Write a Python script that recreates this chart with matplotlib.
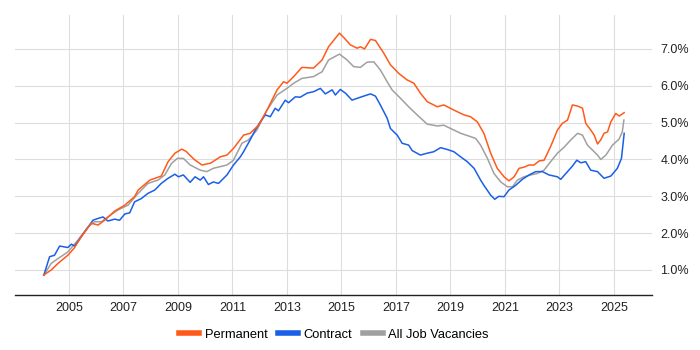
import matplotlib
matplotlib.use("Agg")
import matplotlib.pyplot as plt
from matplotlib.ticker import FuncFormatter

# Permanent (orange)
perm_x = [2004.07, 2004.35, 2004.6, 2004.96, 2005.2, 2005.45, 2005.7, 2005.82, 2006.07, 2006.31,
          2006.68, 2007.05, 2007.41, 2007.54, 2007.97, 2008.39, 2008.64, 2008.89, 2009.14, 2009.3,
          2009.6, 2009.88, 2010.2, 2010.55, 2010.8, 2011.04, 2011.41, 2011.65, 2011.96, 2012.27,
          2012.64, 2012.88, 2013.0, 2013.25, 2013.55, 2013.98, 2014.29, 2014.53, 2014.93, 2015.1,
          2015.33, 2015.58, 2015.7, 2015.85, 2016.07, 2016.25, 2016.56, 2016.8, 2017.1, 2017.41,
          2017.66, 2017.9, 2018.15, 2018.52, 2018.76, 2019.13, 2019.5, 2019.74, 2019.99, 2020.23,
          2020.48, 2020.72, 2020.97, 2021.15, 2021.34, 2021.52, 2021.7, 2021.89, 2022.07, 2022.26,
          2022.44, 2022.68, 2022.93, 2023.11, 2023.3, 2023.48, 2023.67, 2023.85, 2023.97, 2024.15,
          2024.28, 2024.4, 2024.52, 2024.64, 2024.77, 2024.89, 2025.07, 2025.2, 2025.38]
perm_y = [0.86, 1.0, 1.18, 1.40, 1.6, 1.90, 2.15, 2.27, 2.22, 2.35,
          2.6, 2.76, 2.99, 3.17, 3.44, 3.55, 3.94, 4.17, 4.28, 4.22,
          4.0, 3.85, 3.9, 4.07, 4.12, 4.30, 4.66, 4.71, 4.93, 5.34,
          5.89, 6.11, 6.07, 6.25, 6.50, 6.48, 6.70, 7.06, 7.43, 7.3,
          7.11, 7.02, 7.06, 7.0, 7.26, 7.23, 6.88, 6.57, 6.34, 6.16,
          6.07, 5.80, 5.57, 5.43, 5.48, 5.34, 5.21, 5.16, 5.02, 4.71,
          4.17, 3.76, 3.53, 3.42, 3.53, 3.76, 3.79, 3.85, 3.85, 3.96,
          3.98, 4.35, 4.80, 4.98, 5.07, 5.48, 5.45, 5.39, 4.98, 4.80,
          4.66, 4.42, 4.53, 4.71, 4.75, 5.02, 5.25, 5.18, 5.27]

# Contract (blue)
cont_x = [2004.08, 2004.29, 2004.47, 2004.66, 2004.96, 2005.09, 2005.21, 2005.45, 2005.7, 2005.88,
          2006.07, 2006.25, 2006.43, 2006.68, 2006.86, 2007.05, 2007.23, 2007.41, 2007.66, 2007.9,
          2008.15, 2008.39, 2008.64, 2008.89, 2009.02, 2009.2, 2009.45, 2009.63, 2009.82, 2009.94,
          2010.12, 2010.3, 2010.49, 2010.8, 2011.04, 2011.29, 2011.41, 2011.65, 2011.84, 2012.02,
          2012.21, 2012.39, 2012.57, 2012.69, 2012.94, 2013.06, 2013.31, 2013.49, 2013.74, 2013.98,
          2014.23, 2014.41, 2014.66, 2014.78, 2014.96, 2015.15, 2015.39, 2015.58, 2015.82, 2016.07,
          2016.25, 2016.43, 2016.68, 2016.8, 2017.05, 2017.23, 2017.47, 2017.6, 2017.9, 2018.15,
          2018.39, 2018.64, 2018.89, 2019.13, 2019.38, 2019.62, 2019.87, 2020.11, 2020.23, 2020.48,
          2020.63, 2020.78, 2020.97, 2021.15, 2021.4, 2021.64, 2021.89, 2022.13, 2022.38, 2022.62,
          2022.93, 2023.05, 2023.3, 2023.48, 2023.64, 2023.79, 2023.97, 2024.15, 2024.4, 2024.64,
          2024.89, 2025.13, 2025.28, 2025.38]
cont_y = [0.86, 1.36, 1.40, 1.65, 1.61, 1.70, 1.65, 1.90, 2.16, 2.35,
          2.40, 2.44, 2.33, 2.38, 2.35, 2.52, 2.55, 2.85, 2.94, 3.08,
          3.17, 3.35, 3.49, 3.60, 3.53, 3.58, 3.38, 3.53, 3.44, 3.53,
          3.32, 3.39, 3.35, 3.58, 3.85, 4.07, 4.21, 4.53, 4.80, 5.02,
          5.21, 5.16, 5.39, 5.32, 5.61, 5.54, 5.70, 5.69, 5.80, 5.84,
          5.93, 5.78, 5.89, 5.75, 5.90, 5.80, 5.61, 5.66, 5.72, 5.78,
          5.72, 5.48, 5.12, 4.84, 4.66, 4.44, 4.39, 4.24, 4.12, 4.17,
          4.21, 4.32, 4.27, 4.21, 4.07, 3.94, 3.76, 3.44, 3.30, 3.03,
          2.92, 3.00, 2.99, 3.17, 3.30, 3.46, 3.58, 3.67, 3.67, 3.58,
          3.53, 3.46, 3.67, 3.82, 3.98, 3.91, 3.94, 3.71, 3.67, 3.49,
          3.55, 3.76, 4.03, 4.71]

# All Job Vacancies (grey)
all_x = [2004.08, 2004.35, 2004.6, 2004.96, 2005.33, 2005.7, 2005.94, 2006.19, 2006.43, 2006.8,
         2007.17, 2007.54, 2007.9, 2008.27, 2008.52, 2008.76, 2008.98, 2009.2, 2009.45, 2009.82,
         2010.06, 2010.3, 2010.8, 2011.04, 2011.35, 2011.59, 2011.9, 2012.27, 2012.64, 2013.0,
         2013.25, 2013.55, 2013.98, 2014.29, 2014.53, 2014.93, 2015.21, 2015.45, 2015.7, 2015.94,
         2016.19, 2016.43, 2016.68, 2016.86, 2017.17, 2017.47, 2017.78, 2018.15, 2018.52, 2018.76,
         2019.01, 2019.38, 2019.74, 2019.93, 2020.11, 2020.36, 2020.6, 2020.85, 2021.09, 2021.28,
         2021.46, 2021.7, 2021.95, 2022.19, 2022.44, 2022.68, 2022.93, 2023.17, 2023.42, 2023.67,
         2023.85, 2024.03, 2024.21, 2024.4, 2024.52, 2024.71, 2024.95, 2025.19, 2025.31, 2025.37]
all_y = [0.86, 1.18, 1.31, 1.49, 1.81, 2.17, 2.31, 2.31, 2.44, 2.63,
         2.76, 3.08, 3.35, 3.44, 3.58, 3.89, 4.03, 4.03, 3.85, 3.71,
         3.67, 3.76, 3.85, 3.98, 4.44, 4.53, 4.80, 5.34, 5.75, 5.93,
         6.07, 6.20, 6.25, 6.38, 6.70, 6.86, 6.70, 6.52, 6.50, 6.64,
         6.65, 6.43, 6.11, 5.89, 5.66, 5.43, 5.21, 4.96, 4.91, 4.93,
         4.84, 4.71, 4.62, 4.57, 4.39, 4.03, 3.62, 3.39, 3.26, 3.26,
         3.44, 3.53, 3.58, 3.62, 3.71, 3.94, 4.17, 4.33, 4.53, 4.71,
         4.66, 4.39, 4.26, 4.12, 4.00, 4.12, 4.39, 4.55, 4.75, 5.07]

year_ticks = list(range(2005, 2026, 2))
pct_ticks = [1, 2, 3, 4, 5, 6, 7]

plt.rcParams['font.family'] = ['Liberation Sans', 'DejaVu Sans']

fig = plt.figure(figsize=(7, 3.5), dpi=100)
ax = fig.add_axes([0.0214, 0.157, 0.910, 0.800])

ax.plot(all_x, all_y, color='#a0a0a0', lw=1.1, label='All Job Vacancies', zorder=2)
ax.plot(cont_x, cont_y, color='#1a5fe6', lw=1.1, label='Contract', zorder=3)
ax.plot(perm_x, perm_y, color='#ff5a1a', lw=1.1, label='Permanent', zorder=4)

ax.set_xlim(2003.02, 2026.4)
ax.set_ylim(0.32, 7.92)
ax.set_xticks(year_ticks)
ax.set_yticks(pct_ticks)
ax.yaxis.tick_right()
ax.yaxis.set_major_formatter(FuncFormatter(lambda v, p: f"{v:.1f}%"))
ax.tick_params(axis='both', length=0, labelsize=9, colors='#222222')
ax.tick_params(axis='y', pad=6)
ax.tick_params(axis='x', pad=5)
ax.grid(True, color='#dddddd', lw=0.8)
ax.set_axisbelow(True)
for s in ['top', 'left', 'right']:
    ax.spines[s].set_visible(False)
ax.spines['bottom'].set_color('#222222')
ax.spines['bottom'].set_linewidth(1.0)

h, l = ax.get_legend_handles_labels()
order = [2, 1, 0]
leg = fig.legend([h[i] for i in order], [l[i] for i in order], loc='center',
                 bbox_to_anchor=(0.477, 0.043), ncol=3, frameon=False, fontsize=9.3,
                 handlelength=1.55, handletextpad=0.45, columnspacing=0.8)
for line in leg.get_lines():
    line.set_linewidth(4)

fig.savefig('out.png', dpi=100)
